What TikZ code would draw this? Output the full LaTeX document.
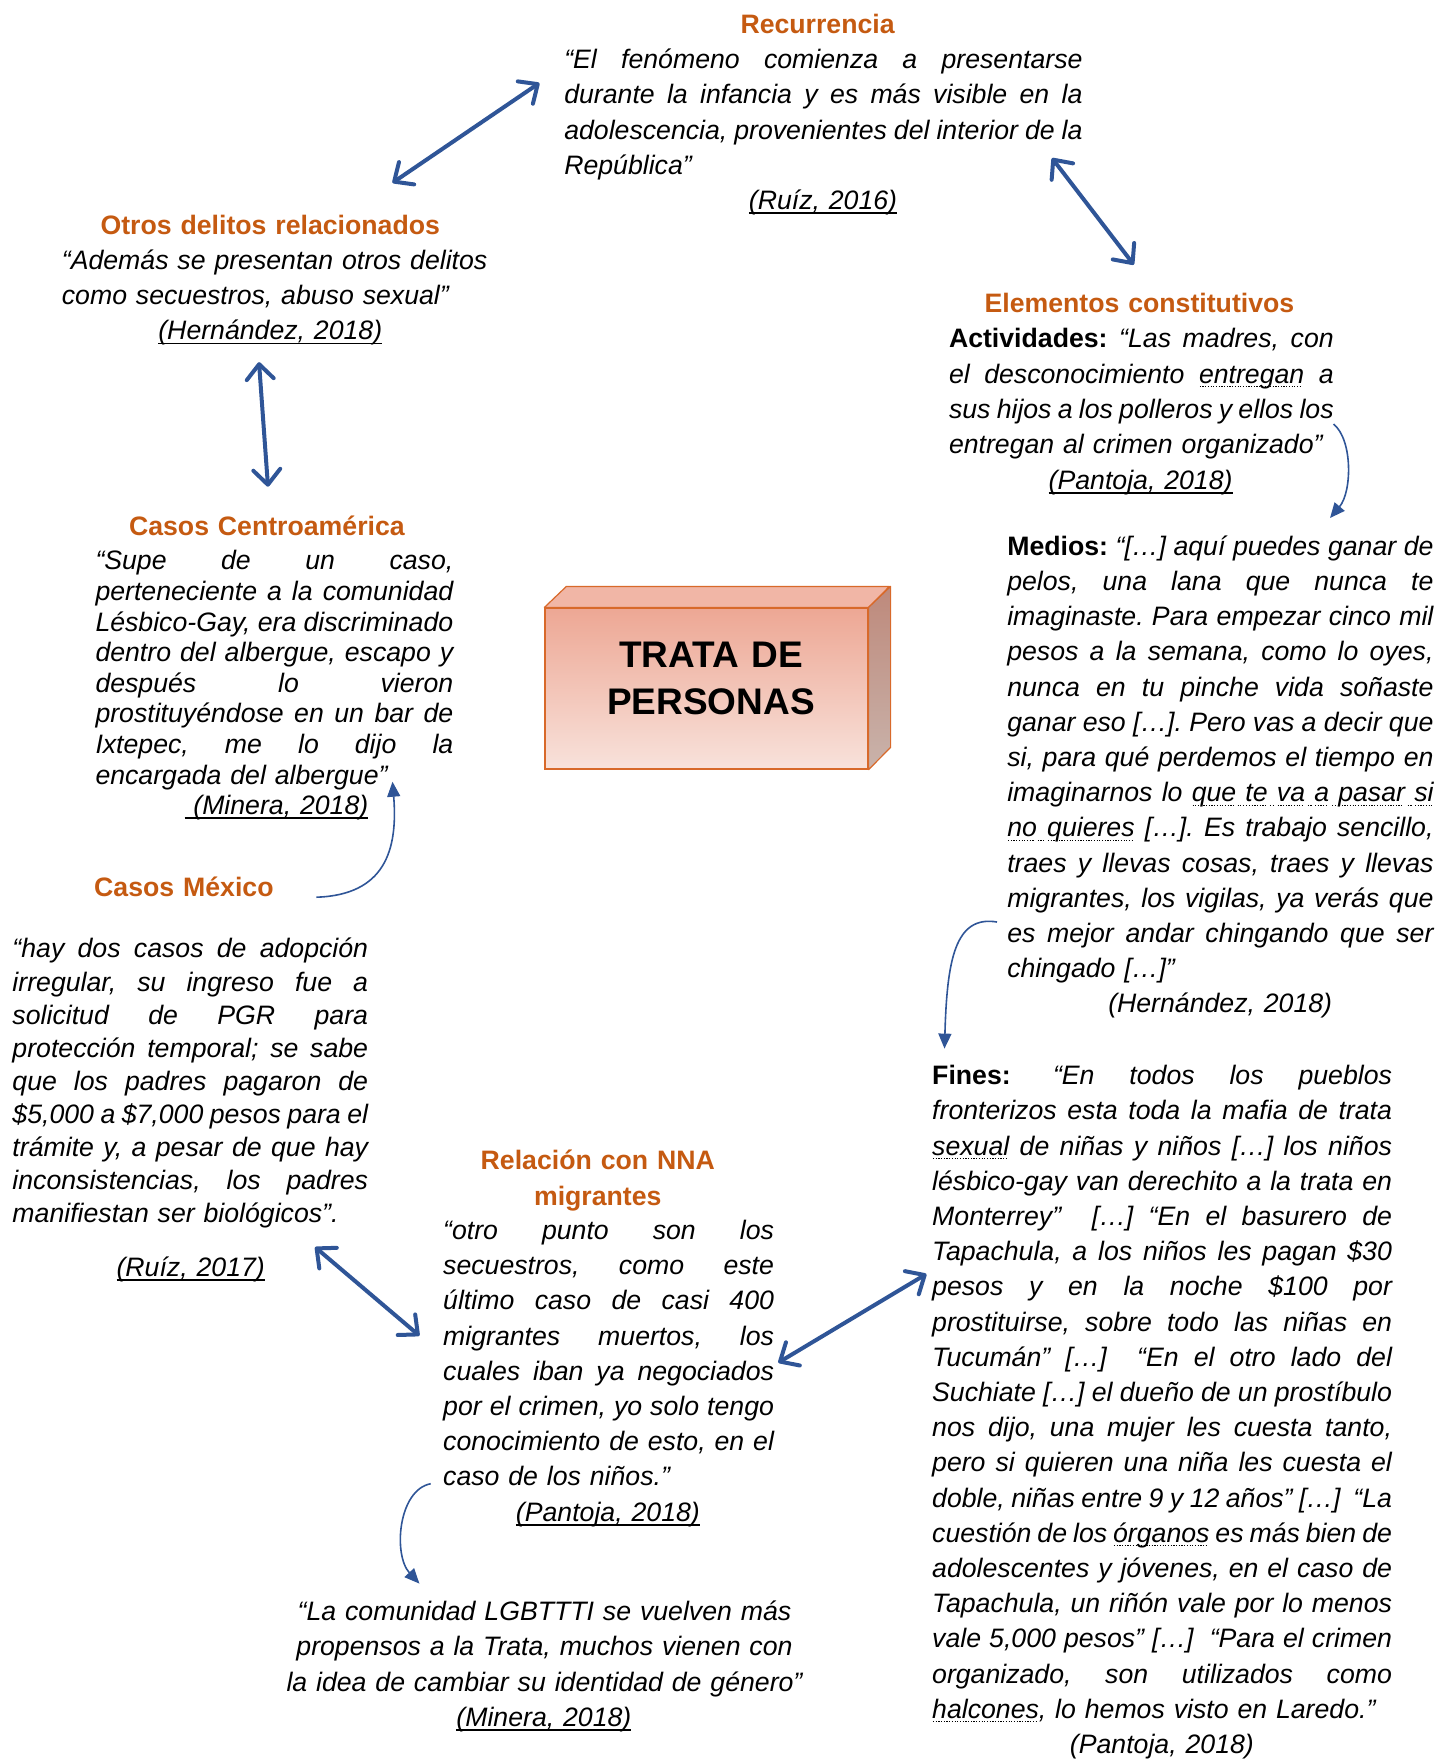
\documentclass[tikz,border=0pt]{standalone}
\usepackage{fontspec}
\setmainfont{Liberation Sans}
\usetikzlibrary{arrows.meta}
\definecolor{headorange}{HTML}{C55A11}
\definecolor{arrowblue}{HTML}{2F5597}
\definecolor{boxedge}{HTML}{D8692A}
\definecolor{frontTop}{HTML}{EDA794}
\definecolor{frontBot}{HTML}{F8E2DB}
\definecolor{topFace}{HTML}{F1B6A6}
\definecolor{sideTop}{HTML}{BE897B}
\definecolor{sideBot}{HTML}{C9B3AB}
\newlength\qw
\newcommand\qfont{\fontsize{26.67}{35.2}\selectfont\itshape\frenchspacing}
\newcommand\hfont{\fontsize{26.67}{35.2}\selectfont\bfseries}
\newcommand\jl[1]{\makebox[\qw][s]{\spaceskip=\fontdimen2\font plus 1fil minus 0.3\fontdimen2\font\relax #1}}
\newcommand\dotpat{\leaders\hbox to 2.7pt{\hss\rule[-4pt]{1.2pt}{1.1pt}\hss}}
\newcommand\dw[1]{\leavevmode\setbox0\hbox{#1}\rlap{\dotpat\hskip\wd0}\box0\relax}
\newcommand\ds{\dotpat\hskip\fontdimen2\font plus 1fil minus 0.3\fontdimen2\font\relax}
\newcommand\ucite[1]{\leavevmode\setbox0\hbox{#1}\rlap{\rule[-4.5pt]{\wd0}{1.5pt}}\box0\relax}
\newcommand\lbl[1]{{\bfseries\upshape #1}}
\tikzset{
  qblock/.style={inner sep=0pt, anchor=base west, align=left, font=\qfont},
  heading/.style={inner sep=0pt, anchor=base, align=center, text width=520pt, font=\hfont, text=headorange},
  citation/.style={inner sep=0pt, anchor=base, align=center, text width=420pt, font=\qfont},
  bigarrow/.style={draw=arrowblue, line width=4pt,
     {Straight Barb[length=15pt,width=27pt,round]}-{Straight Barb[length=15pt,width=27pt,round]}},
  thinarrow/.style={draw=arrowblue, line width=1.6pt, -{Triangle[length=15pt,width=13pt]}}
}
\begin{document}
\begin{tikzpicture}[x=1pt,y=-1pt]
\useasboundingbox (0,0) rectangle (1440,1759);

% ---------- central box ----------
\node[name=trata, draw=boxedge, line width=1.2pt, top color=frontTop, bottom color=frontBot,
      minimum width=323pt, minimum height=161pt, inner sep=0pt] at (706.5,688.5) {};
\path[draw=boxedge, line width=1.2pt, fill=topFace, line join=round]
   (trata.north west) -- ++(22,-21) -- ++(323,0) -- (trata.north east) -- cycle;
\path[draw=boxedge, line width=1.2pt, top color=sideTop, bottom color=sideBot, line join=round]
   (trata.north east) -- ++(22,-21) -- ++(0,161) -- (trata.south east) -- cycle;
\node[name=tratalabel, inner sep=0pt, anchor=base, align=center, text width=320pt,
      font=\fontsize{37}{47}\selectfont\bfseries] at (711,667) {TRATA DE\\PERSONAS};

% ---------- Recurrencia ----------
\node[heading, name=recH] at (817.6,33.7) {Recurrencia};
\setlength\qw{518.2pt}
\node[qblock, name=recQ, text width=518.2pt] at (564.1,68.6) {%
\jl{“El fenómeno comienza a presentarse}\\
\jl{durante la infancia y es más visible en la}\\
\jl{adolescencia, provenientes del interior de la}\\
República”};
\node[citation, name=recC] at (823,209) {\ucite{(Ruíz, 2016)}};

% ---------- Otros delitos ----------
\node[heading, name=otrH] at (270.3,234.4) {Otros delitos relacionados};
\node[qblock, name=otrQ, text width=440pt] at (61.7,269.3) {%
“Además se presentan otros delitos\\
como secuestros, abuso sexual”};
\node[citation, name=otrC] at (270.3,339.7) {\ucite{(Hernández, 2018)}};

% ---------- Elementos constitutivos ----------
\node[heading, name=eleH] at (1139.4,312.9) {Elementos constitutivos};
\setlength\qw{384.7pt}
\node[qblock, name=eleQ, text width=384.7pt] at (948.8,347.8) {%
\jl{\lbl{Actividades:} “Las madres, con}\\
\jl{el desconocimiento \dw{entregan} a}\\
\jl{sus hijos a los polleros y ellos los}\\
entregan al crimen organizado”};
\node[citation, name=eleC] at (1140.6,489.1) {\ucite{(Pantoja, 2018)}};

% ---------- Medios ----------
\setlength\qw{426.2pt}
\node[qblock, name=medQ, text width=426.2pt] at (1007.1,555.3) {%
\jl{\lbl{Medios:} “[…] aquí puedes ganar de}\\
\jl{pelos, una lana que nunca te}\\
\jl{imaginaste. Para empezar cinco mil}\\
\jl{pesos a la semana, como lo oyes,}\\
\jl{nunca en tu pinche vida soñaste}\\
\jl{ganar eso […]. Pero vas a decir que}\\
\jl{si, para qué perdemos el tiempo en}\\
\jl{imaginarnos lo \dw{que}\ds\dw{te}\ds\dw{va}\ds\dw{a}\ds\dw{pasar}\ds\dw{si}}\\
\jl{\dw{no}\ds\dw{quieres} […]. Es trabajo sencillo,}\\
\jl{traes y llevas cosas, traes y llevas}\\
\jl{migrantes, los vigilas, ya verás que}\\
\jl{es mejor andar chingando que ser}\\
chingado […]”};
\node[citation, name=medC] at (1220.2,1012.9) {(Hernández, 2018)};

% ---------- Fines ----------
\setlength\qw{459.8pt}
\node[qblock, name=finQ, text width=459.8pt] at (932,1084.6) {%
\jl{\lbl{Fines:}\hspace{7.4pt} “En todos los pueblos}\\
\jl{fronterizos esta toda la mafia de trata}\\
\jl{\dw{sexual} de niñas y niños […] los niños}\\
\jl{lésbico-gay van derechito a la trata en}\\
\jl{Monterrey” \ […] “En el basurero de}\\
\jl{Tapachula, a los niños les pagan \$30}\\
\jl{pesos y en la noche \$100 por}\\
\jl{prostituirse, sobre todo las niñas en}\\
\jl{Tucumán” […] \ “En el otro lado del}\\
\jl{Suchiate […] el dueño de un prostíbulo}\\
\jl{nos dijo, una mujer les cuesta tanto,}\\
\jl{pero si quieren una niña les cuesta el}\\
\jl{doble, niñas entre 9 y 12 años” […] \ “La}\\
\jl{cuestión de los \dw{órganos} es más bien de}\\
\jl{adolescentes y jóvenes, en el caso de}\\
\jl{Tapachula, un riñón vale por lo menos}\\
\jl{vale 5,000 pesos” […] \ “Para el crimen}\\
\jl{organizado, son utilizados como}\\
\dw{halcones}, lo hemos visto en Laredo.”};
\node[citation, name=finC] at (1161.9,1753) {(Pantoja, 2018)};

% ---------- Casos Centroamerica ----------
\node[heading, name=cenH] at (266.9,535) {Casos Centroamérica};
\setlength\qw{357.8pt}
\node[qblock, name=cenQ, text width=357.8pt, font=\fontsize{26.67}{30.6}\selectfont\itshape\frenchspacing] at (95.3,569.9) {%
\jl{“Supe de un caso,}\\
\jl{perteneciente a la comunidad}\\
\jl{Lésbico-Gay, era discriminado}\\
\jl{dentro del albergue, escapo y}\\
\jl{después lo vieron}\\
\jl{prostituyéndose en un bar de}\\
\jl{Ixtepec, me lo dijo la}\\
encargada del albergue”};
\node[citation, name=cenC] at (276.4,814.4) {\ucite{\ (Minera, 2018)}};

% ---------- Casos Mexico ----------
\node[heading, name=mexH] at (183.9,896) {Casos México};
\setlength\qw{355.6pt}
\node[qblock, name=mexQ, text width=355.6pt, font=\fontsize{26.67}{33.1}\selectfont\itshape\frenchspacing] at (12.3,957.9) {%
\jl{“hay dos casos de adopción}\\
\jl{irregular, su ingreso fue a}\\
\jl{solicitud de PGR para}\\
\jl{protección temporal; se sabe}\\
\jl{que los padres pagaron de}\\
\jl{\$5,000 a \$7,000 pesos para el}\\
\jl{trámite y, a pesar de que hay}\\
\jl{inconsistencias, los padres}\\
manifiestan ser biológicos”.};
\node[citation, name=mexC] at (190.7,1276.4) {\ucite{(Ruíz, 2017)}};

% ---------- Relacion con NNA ----------
\node[heading, name=relH] at (597.8,1169.8) {Relación con NNA\\migrantes};
\setlength\qw{330.8pt}
\node[qblock, name=relQ, text width=330.8pt] at (443,1239.4) {%
\jl{“otro punto son los}\\
\jl{secuestros, como este}\\
\jl{último caso de casi 400}\\
\jl{migrantes muertos, los}\\
\jl{cuales iban ya negociados}\\
\jl{por el crimen, yo solo tengo}\\
\jl{conocimiento de esto, en el}\\
caso de los niños.”};
\node[citation, name=relC] at (607.9,1521) {\ucite{(Pantoja, 2018)}};

% ---------- LGBTTTI ----------
\node[qblock, name=lgbQ, anchor=base, align=center, text width=560pt] at (544.5,1620.7) {%
“La comunidad LGBTTTI se vuelven más\\
propensos a la Trata, muchos vienen con\\
la idea de cambiar su identidad de género”};
\node[citation, name=lgbC] at (543.9,1726.1) {\ucite{(Minera, 2018)}};

% ---------- connector end points ----------
\coordinate (a1s) at (539.4,83);    \coordinate (a1e) at (392.5,182.8);
\coordinate (a2s) at (1052,158.1);  \coordinate (a2e) at (1133.8,264.7);
\coordinate (a3s) at (259,362.2);   \coordinate (a3e) at (268,486.7);
\coordinate (a4s) at (315.1,1247.1); \coordinate (a4e) at (419.4,1335.7);
\coordinate (a5s) at (778.3,1362.6); \coordinate (a5e) at (926.4,1274);
\coordinate (c1s) at (1333.5,424);  \coordinate (c1e) at (1330,518);
\coordinate (c2s) at (997,922);     \coordinate (c2e) at (944.5,1048.6);
\coordinate (c3s) at (316.3,897.2); \coordinate (c3e) at (392.5,781.7);
\coordinate (c4s) at (430.7,1483.7); \coordinate (c4e) at (419.4,1583.6);

% ---------- thick double arrows ----------
\draw[bigarrow] (a1s) -- (a1e);
\draw[bigarrow] (a2s) -- (a2e);
\draw[bigarrow] (a3s) -- (a3e);
\draw[bigarrow] (a4s) -- (a4e);
\draw[bigarrow] (a5s) -- (a5e);

% ---------- thin curved arrows ----------
\draw[thinarrow] (c1s) .. controls (1353,440) and (1352,492) .. (c1e);
\draw[thinarrow] (c2s) .. controls (955,915) and (947,960) .. (c2e);
\draw[thinarrow] (c3s) .. controls (385,895) and (398,850) .. (c3e);
\draw[thinarrow] (c4s) .. controls (398,1490) and (393,1555) .. (c4e);
\end{tikzpicture}
\end{document}
